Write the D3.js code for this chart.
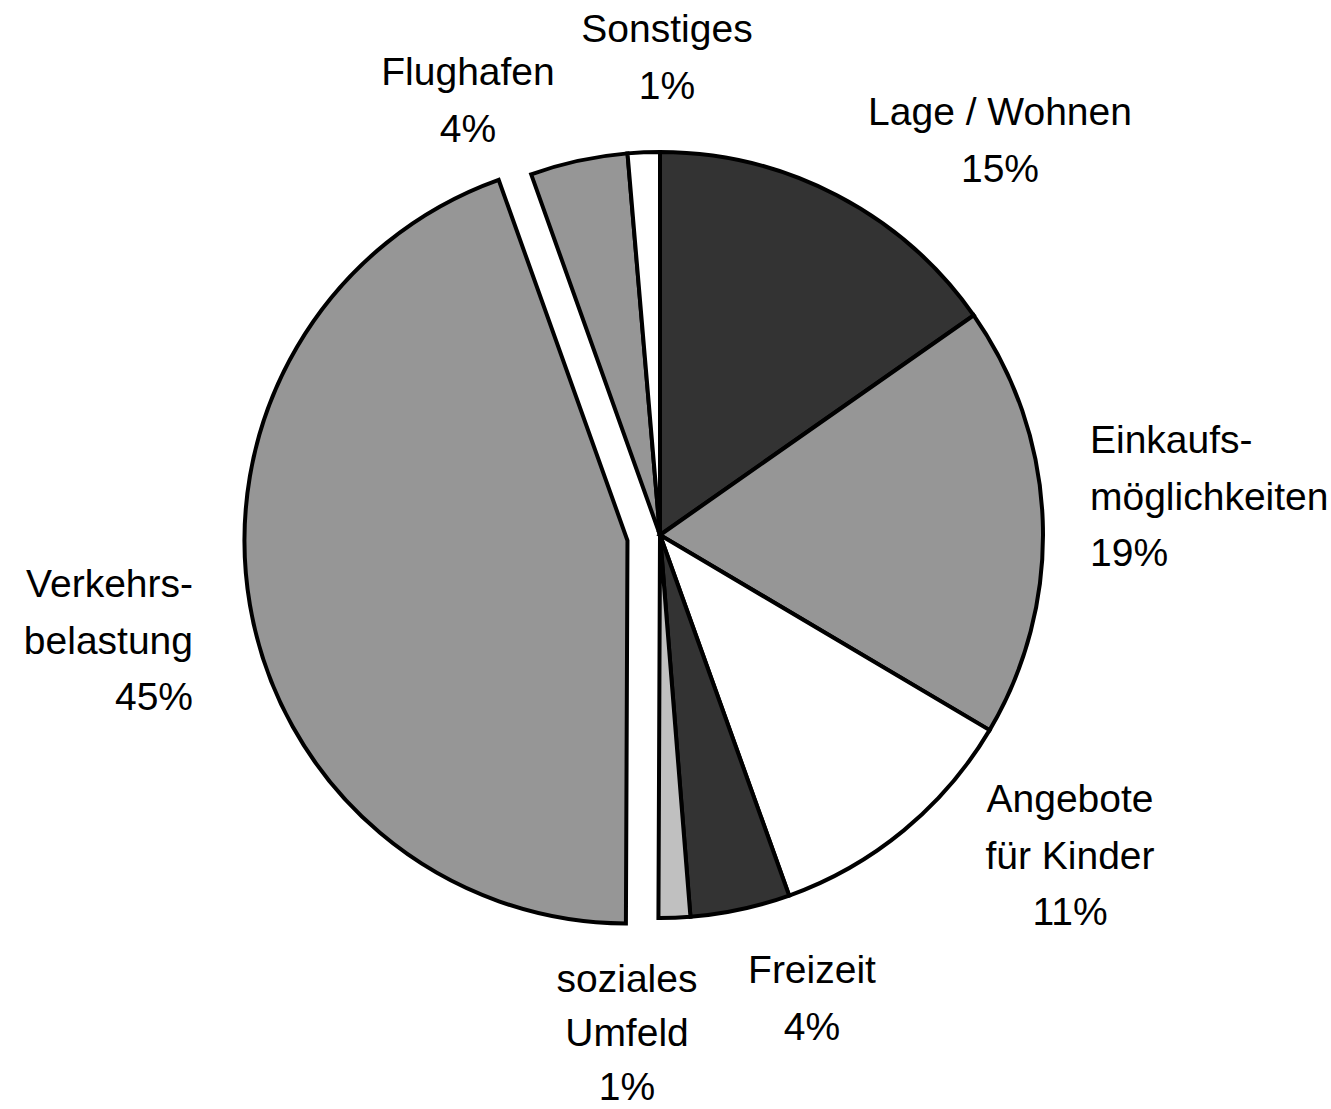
<!DOCTYPE html>
<html>
<head>
<meta charset="utf-8">
<script src="https://cdn.jsdelivr.net/npm/d3@7"></script>
<style>
  body { margin: 0; background: #fff; }
  svg text { font-family: "Liberation Sans", Arial, sans-serif; font-size: 39px; fill: #000; }
</style>
</head>
<body>
<div id="chart"></div>
<script>
// categories, clockwise from 12 o'clock
const categories = ["Lage / Wohnen", "Einkaufsmöglichkeiten", "Angebote für Kinder", "Freizeit",
  "soziales Umfeld", "Verkehrsbelastung", "Flughafen", "Sonstiges"];
// share in percent
const values = [15.25, 18.2, 11.0, 4.2, 1.33, 44.4, 4.1, 1.35];
// label texts as printed
const labelLines = [
  ["Lage / Wohnen", "15%"],
  ["Einkaufs-", "möglichkeiten", "19%"],
  ["Angebote", "für Kinder", "11%"],
  ["Freizeit", "4%"],
  ["soziales", "Umfeld", "1%"],
  ["Verkehrs-", "belastung", "45%"],
  ["Flughafen", "4%"],
  ["Sonstiges", "1%"]
];
const fills = ["#333333", "#969696", "#ffffff", "#333333", "#c0c0c0", "#969696", "#969696", "#ffffff"];
const exploded = "Verkehrsbelastung";

// layout
const W = 1331, H = 1109;
const cx = 660, cy = 535, radius = 383, explodeBy = 33;
const lineGap = 56.5;
// label anchors: x, baseline of first line, text-anchor (gap: optional line spacing)
const labelPos = [
  {x: 1000, y: 125, anchor: "middle"},
  {x: 1090, y: 453, anchor: "start"},
  {x: 1070, y: 812, anchor: "middle"},
  {x: 812, y: 983, anchor: "middle"},
  {x: 627, y: 992, anchor: "middle", gap: 54},
  {x: 193, y: 597, anchor: "end"},
  {x: 468, y: 85, anchor: "middle"},
  {x: 667, y: 42, anchor: "middle"}
];

const svg = d3.select("#chart").append("svg")
  .attr("width", W)
  .attr("height", H);

const data = categories.map((c, i) => ({name: c, value: values[i], fill: fills[i]}));

const pie = d3.pie()
  .sort(null)
  .value(d => d.value);

const arc = d3.arc()
  .innerRadius(0)
  .outerRadius(radius);

const g = svg.append("g")
  .attr("transform", `translate(${cx}, ${cy})`);

g.selectAll("path.slice")
  .data(pie(data))
  .enter()
  .append("path")
    .attr("class", "slice")
    .attr("d", arc)
    .attr("fill", d => d.data.fill)
    .attr("stroke", "#000")
    .attr("stroke-width", 4)
    .attr("stroke-linejoin", "miter")
    .attr("transform", d => {
      if (d.data.name !== exploded) return null;
      const a = (d.startAngle + d.endAngle) / 2;
      return `translate(${Math.sin(a) * explodeBy}, ${-Math.cos(a) * explodeBy})`;
    });

// labels
labelLines.forEach((lines, i) => {
  const p = labelPos[i];
  const gap = p.gap || lineGap;
  const t = svg.append("text")
    .attr("text-anchor", p.anchor);
  lines.forEach((ln, j) => {
    t.append("tspan")
      .attr("x", p.x)
      .attr("y", p.y + j * gap)
      .text(ln);
  });
});
</script>
</body>
</html>
